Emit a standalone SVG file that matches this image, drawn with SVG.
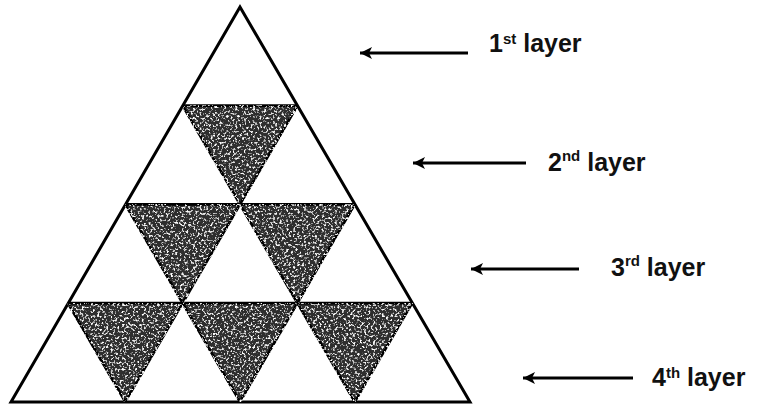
<svg xmlns="http://www.w3.org/2000/svg" width="766" height="407" viewBox="0 0 766 407">
<style>
.edge{fill:none;stroke:#000;stroke-width:3;stroke-linejoin:miter}
.shade{fill:#2e2e2e;stroke:#000;stroke-width:2.5;stroke-linejoin:miter;filter:url(#speckle)}
.lbl{font-family:"Liberation Sans",Arial,sans-serif;font-size:25px;font-weight:bold;fill:#111}
.sup{font-size:15px}
.arrow{stroke:#000;stroke-width:3;fill:none;marker-end:url(#head)}
</style>
<defs>
<marker id="head" markerUnits="userSpaceOnUse" markerWidth="14" markerHeight="12" refX="12" refY="6" orient="auto">
<path d="M0,0 L12,6 L0,12 L3,6 Z" fill="#000"/>
</marker>
<filter id="speckle" x="0" y="0" width="100%" height="100%">
<feTurbulence type="fractalNoise" baseFrequency="0.45" numOctaves="2" seed="7" result="n"/>
<feColorMatrix in="n" type="matrix" values="0 0 0 0 1  0 0 0 0 1  0 0 0 0 1  5 0 0 0 -2.7" result="w"/>
<feComposite in="w" in2="SourceGraphic" operator="atop"/>
</filter>
</defs>
<rect width="766" height="407" fill="#fff"/>
<g id="pyramid">
<polygon class="edge" points="240,7 470,402 11,402"/>
<line class="edge" x1="182.6" y1="105.75" x2="297.4" y2="105.75"/>
<line class="edge" x1="125.25" y1="204.5" x2="354.75" y2="204.5"/>
<line class="edge" x1="67.9" y1="303.25" x2="412.1" y2="303.25"/>
</g>
<g id="layer2-shade">
<polygon class="shade" points="182.6,105.75 297.4,105.75 240,204.5"/>
</g>
<g id="layer3-shade">
<polygon class="shade" points="125.25,204.5 240,204.5 182.6,303.25"/>
<polygon class="shade" points="240,204.5 354.75,204.5 297.4,303.25"/>
</g>
<g id="layer4-shade">
<polygon class="shade" points="67.9,303.25 182.6,303.25 125.25,402"/>
<polygon class="shade" points="182.6,303.25 297.4,303.25 240,402"/>
<polygon class="shade" points="297.4,303.25 412.1,303.25 354.75,402"/>
</g>
<g id="connectors">
<line class="arrow" x1="468" y1="53" x2="360" y2="53"/>
<line class="arrow" x1="526" y1="163" x2="413" y2="163"/>
<line class="arrow" x1="579" y1="269" x2="471" y2="269"/>
<line class="arrow" x1="633" y1="378" x2="523" y2="378"/>
</g>
<g id="label1"><text class="lbl" x="489" y="52">1<tspan class="sup" dy="-8">st</tspan><tspan dy="8"> layer</tspan></text></g>
<g id="label2"><text class="lbl" x="548" y="171">2<tspan class="sup" dy="-10">nd</tspan><tspan dy="10"> layer</tspan></text></g>
<g id="label3"><text class="lbl" x="611" y="276">3<tspan class="sup" dy="-10">rd</tspan><tspan dy="10"> layer</tspan></text></g>
<g id="label4"><text class="lbl" x="652" y="386">4<tspan class="sup" dy="-8">th</tspan><tspan dy="8"> layer</tspan></text></g>
</svg>
